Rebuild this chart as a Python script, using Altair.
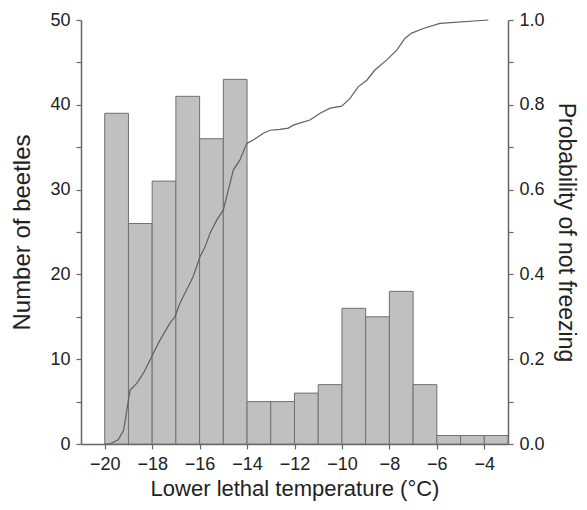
import altair as alt
import pandas as pd

# Histogram: bin starts (°C) and number of beetles
bin_start = [-20, -19, -18, -17, -16, -15, -14, -13, -12, -11, -10, -9, -8, -7, -6, -5, -4]
counts = [39, 26, 31, 41, 36, 43, 5, 5, 6, 7, 16, 15, 18, 7, 1, 1, 1]

# Cumulative probability of not freezing
line_temp = [-20.0, -19.78, -19.43, -19.2, -19.07, -18.93, -18.65, -18.37, -18.16, -17.95,
             -17.67, -17.25, -17.04, -16.83, -16.55, -16.27, -15.98, -15.77, -15.56, -15.28,
             -15.0, -14.79, -14.58, -14.3, -14.01, -13.74, -13.31, -13.03, -12.61, -12.26,
             -12.05, -11.35, -10.92, -10.5, -10.01, -9.66, -9.31, -8.95, -8.61, -8.11,
             -7.69, -7.34, -7.06, -6.57, -5.87, -3.83]
line_prob = [0.0, 0.0, 0.01, 0.033, 0.08, 0.127, 0.143, 0.167, 0.19, 0.214,
             0.245, 0.285, 0.30, 0.332, 0.363, 0.395, 0.442, 0.465, 0.497, 0.528,
             0.552, 0.599, 0.646, 0.67, 0.709, 0.717, 0.733, 0.74, 0.742, 0.745,
             0.752, 0.764, 0.78, 0.792, 0.797, 0.815, 0.843, 0.858, 0.882, 0.906,
             0.929, 0.957, 0.969, 0.98, 0.992, 1.0]

bars_df = pd.DataFrame({"start": bin_start, "end": [s + 1 for s in bin_start],
                        "count": counts, "base": [0] * len(counts)})
line_df = pd.DataFrame({"temp": line_temp, "prob": line_prob})

FONT = "Liberation Sans"
x_scale = alt.Scale(domain=[-21, -3], nice=False, zero=False)

bars = alt.Chart(bars_df).mark_rect(
    color="#c0c0c0", stroke="#707070", strokeWidth=1
).encode(
    x=alt.X("start:Q", scale=x_scale,
            axis=alt.Axis(
                values=list(range(-20, -3)),
                labelExpr="datum.value % 2 == 0 ? replace(format(datum.value, 'd'), '-', '\u2212') : ''",
                title="Lower lethal temperature (\u00b0C)",
                titleFontSize=22,
                titlePadding=5,
            )),
    x2="end:Q",
    y=alt.Y("count:Q", scale=alt.Scale(domain=[0, 50], nice=False),
            axis=alt.Axis(
                values=list(range(0, 51, 5)),
                labelExpr="datum.value % 10 == 0 ? datum.label : ''",
                title="Number of beetles",
                titleFontSize=24,
                titlePadding=15,
            )),
    y2="base:Q",
)

line = alt.Chart(line_df).mark_line(color="#606060", strokeWidth=1.2).encode(
    x=alt.X("temp:Q", scale=x_scale),
    y=alt.Y("prob:Q", scale=alt.Scale(domain=[0, 1], nice=False),
            axis=alt.Axis(
                orient="right",
                values=[i / 10 for i in range(11)],
                labelExpr="round(datum.value * 10) % 2 == 0 ? format(datum.value, '.1f') : ''",
                title="Probability of not freezing",
                titleFontSize=23,
                titlePadding=9,
            )),
)

chart = alt.layer(bars, line).resolve_scale(y="independent").properties(
    width=427, height=424,
    autosize=alt.AutoSizeParams(type="none"),
    padding={"left": 73, "top": 12, "right": 71, "bottom": 58},
).configure_view(stroke=None).configure_axis(
    grid=False,
    domainColor="#666666", domainWidth=1.5,
    tickColor="#666666", tickSize=5, tickWidth=1.2,
    labelFont=FONT, labelFontSize=18, labelColor="#222222", labelPadding=6,
    titleFont=FONT, titleFontWeight="normal", titleColor="#222222",
)

chart.save("out.html", embed_options={"renderer": "svg", "actions": False})
